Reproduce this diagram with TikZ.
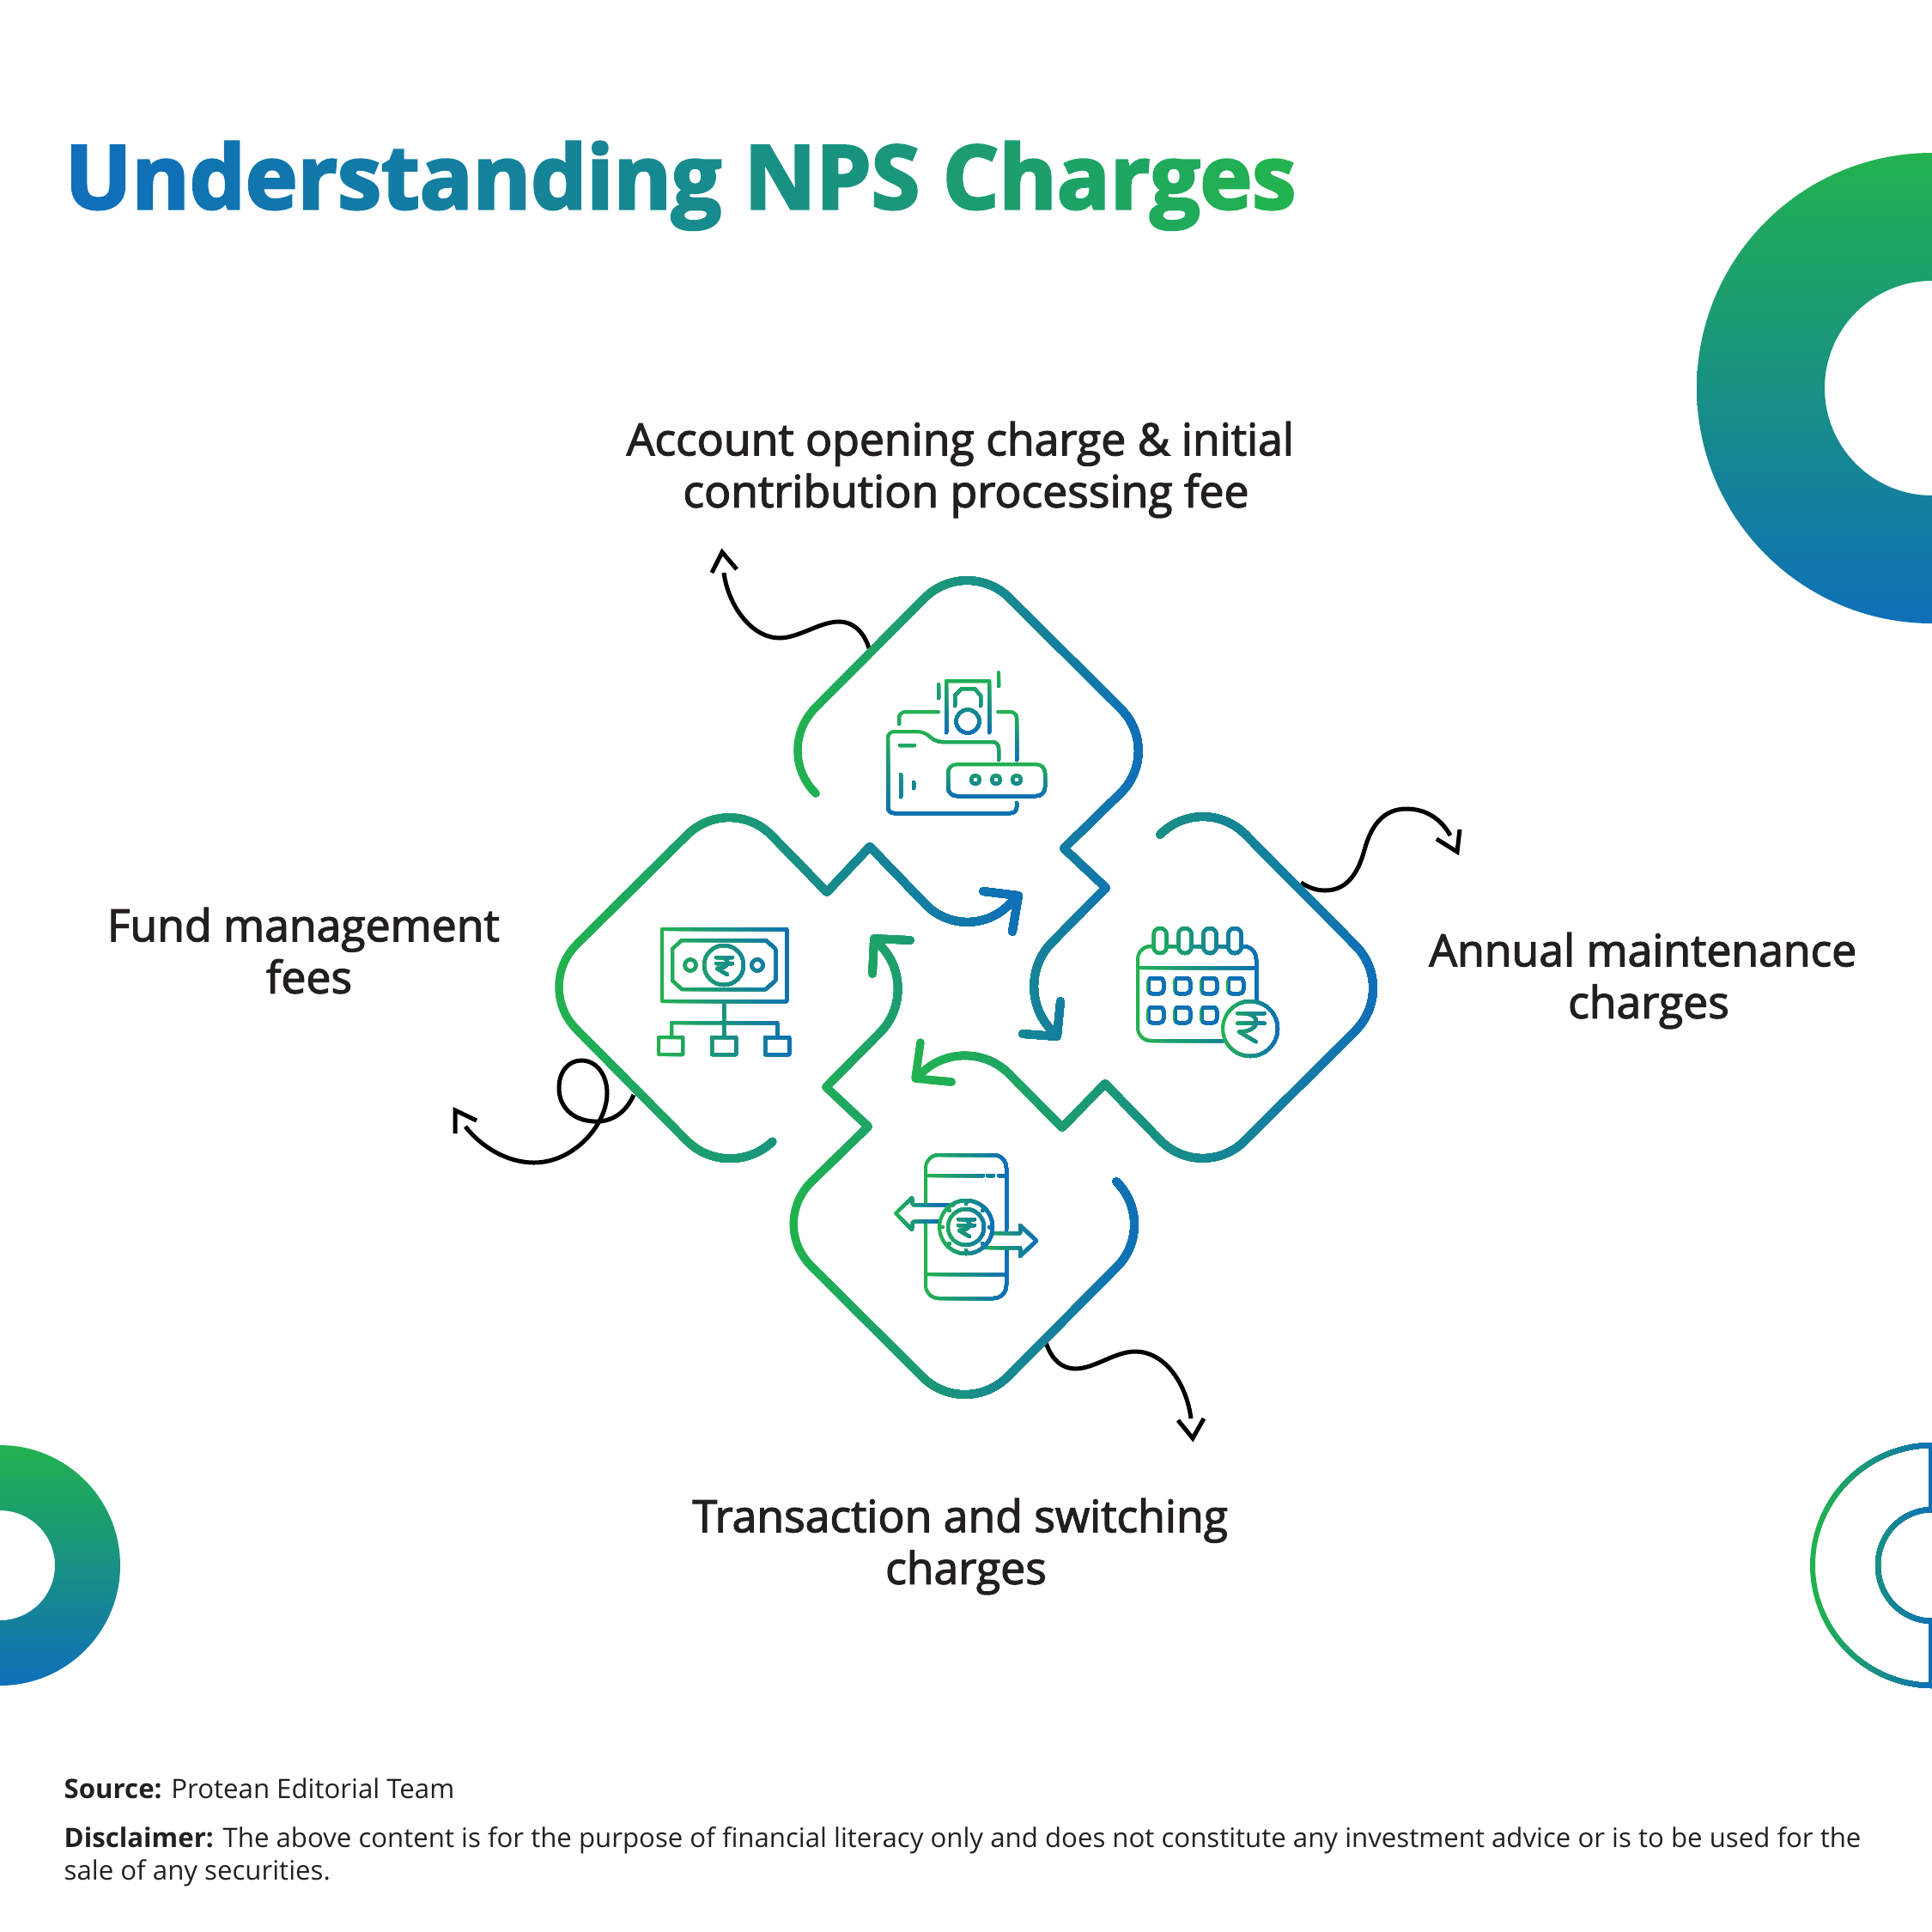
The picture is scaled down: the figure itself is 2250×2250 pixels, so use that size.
\documentclass[tikz,border=0pt]{standalone}
\usepackage{fontspec}
\usepackage{xcolor}
\setmainfont{Open Sans}
\newfontfamily\semifont[FakeBold=2.4]{Open Sans}
\newfontfamily\heavyfont[UprightFont=*-Bold,FakeBold=3]{Open Sans}
\definecolor{ggreen}{HTML}{22B24F}
\definecolor{gblue}{HTML}{0F6FB9}
\definecolor{labelgray}{HTML}{231F20}
\tikzset{
  bigline/.style={line width=0.095cm,line cap=round,line join=round},
  iconline/.style={line width=0.04cm,line cap=round,line join=round},
  ringline/.style={line width=0.06cm},
  curlyline/.style={line width=0.05cm,black},
  headline/.style={font=\semifont\fontsize{14.7}{17.2}\selectfont,text=labelgray,align=center},
  footline/.style={font=\fontsize{8.87}{10.6}\selectfont,text=labelgray,align=left,anchor=base west}
}
% stroke in bands, green to blue: style, low end, high end, path
\newcommand{\gradx}[4]{%
  \foreach \bnd in {0,...,29}{%
    \pgfmathsetmacro{\bpos}{(\bnd==0)?(#2-60):(#2+(#3-#2)*\bnd/30)}%
    \pgfmathtruncatemacro{\bpct}{100*(\bnd+0.5)/30}%
    \begin{scope}
      \clip (\bpos,-100) rectangle (3000,2400);
      \draw[#1,draw=gblue!\bpct!ggreen] #4;
    \end{scope}
  }%
}
\newcommand{\grady}[4]{%
  \foreach \bnd in {0,...,29}{%
    \pgfmathsetmacro{\bpos}{(\bnd==0)?(#2-60):(#2+(#3-#2)*\bnd/30)}%
    \pgfmathtruncatemacro{\bpct}{100*(\bnd+0.5)/30}%
    \begin{scope}
      \clip (-100,\bpos) rectangle (3000,2400);
      \draw[#1,draw=gblue!\bpct!ggreen] #4;
    \end{scope}
  }%
}
\newcommand{\rupeemark}[3]{({#1-9*#3},{#2-9*#3}) -- ({#1+10*#3},{#2-9*#3})
  ({#1-9*#3},{#2-2*#3}) -- ({#1+10*#3},{#2-2*#3})
  ({#1-5*#3},{#2-9*#3}) .. controls ({#1+8*#3},{#2-9*#3}) and ({#1+8*#3},{#2+4*#3}) .. ({#1-8*#3},{#2+4*#3})
  -- ({#1+4*#3},{#2+11*#3})}
\newcommand{\tl}[2]{\textcolor{gblue!#1!ggreen}{#2}}

\begin{document}
\begin{tikzpicture}[x=0.01cm,y=-0.01cm]
\useasboundingbox (0,0) rectangle (2250,2250);
\clip (0,0) rectangle (2250,2250);

% corner pieces
\shade[top color=ggreen,bottom color=gblue,even odd rule] (2250,452) circle[radius=274] (2250,452) circle[radius=125];
\shade[top color=ggreen,bottom color=gblue,even odd rule] (0,1823) circle[radius=140] (0,1823) circle[radius=64];
\gradx{ringline}{2115}{2250}{(2249,1683) -- (2249,1760) (2249,1886) -- (2249,1963)
  (2251,1683) .. controls (2174,1683) and (2111,1746) .. (2111,1823) .. controls (2111,1900) and (2174,1963) .. (2251,1963)
  (2251,1758) .. controls (2215,1758) and (2187,1787) .. (2187,1823) .. controls (2187,1859) and (2215,1888) .. (2251,1888)};

% title
\node[anchor=base west,inner sep=0pt] (title) at (75,243) {\heavyfont\fontsize{29.2}{36}\selectfont
  \tl{100}{U}\tl{97}{n}\tl{93}{d}\tl{89}{e}\tl{86}{r}\tl{83}{s}\tl{80}{t}\tl{76}{a}\tl{72}{n}\tl{68}{d}\tl{65}{i}\tl{62}{n}\tl{58}{g}
  \tl{50}{N}\tl{46}{P}\tl{42}{S}
  \tl{33}{C}\tl{28}{h}\tl{23}{a}\tl{18}{r}\tl{12}{g}\tl{6}{e}\tl{0}{s}};

% labels
\node[headline] (account) at (1125,547) {Account opening charge \& initial\hspace*{0.26em}\\contribution processing fee};
\node[headline] (annual) at (1920,1142) {Annual maintenance\hspace*{0.26em}\\charges};
\node[headline] (transaction) at (1125,1801) {Transaction and switching\hspace*{0.26em}\\charges};
\node[headline] (fund) at (360,1107) {Fund management\hspace*{0.26em}\\fees};

% curly pointers
\coordinate (topstart) at (1012,755);
\coordinate (topend) at (843,667);
\coordinate (rightstart) at (1515,1028);
\coordinate (rightend) at (1689,973);
\coordinate (bottomstart) at (1218,1563);
\coordinate (bottomend) at (1387,1652);
\coordinate (leftstart) at (738,1275);
\coordinate (leftend) at (542,1312);
\draw[curlyline] (topstart) .. controls (1007,738) and (995,724) .. (977,724) .. controls (955,724) and (930,743) .. (908,743) .. controls (875,743) and (848,705) .. (topend);
\draw[curlyline] (829,667) -- (841,643) -- (858,663);
\draw[curlyline] (rightstart) .. controls (1525,1034) and (1533,1037) .. (1543,1037) .. controls (1570,1037) and (1582,1015) .. (1589,990) .. controls (1597,960) and (1612,942) .. (1638,942) .. controls (1660,942) and (1678,953) .. (rightend);
\draw[curlyline] (1673,977) -- (1697,992) -- (1700,966);
\draw[curlyline] (bottomstart) .. controls (1224,1583) and (1237,1594) .. (1252,1594) .. controls (1275,1594) and (1298,1574) .. (1322,1574) .. controls (1357,1574) and (1382,1612) .. (bottomend);
\draw[curlyline] (1372,1654) -- (1389,1675) -- (1402,1652);
\draw[curlyline] (leftstart) .. controls (728,1298) and (710,1307) .. (692,1306) .. controls (668,1305) and (651,1290) .. (651,1267) .. controls (651,1248) and (662,1235) .. (677,1235) .. controls (695,1235) and (707,1252) .. (707,1273) .. controls (707,1310) and (668,1354) .. (622,1354) .. controls (590,1354) and (560,1335) .. (leftend);
\draw[curlyline] (530,1320) -- (530,1293) -- (555,1305);

% four looped arrows
\gradx{bigline}{929}{1325}{(950,924) [rounded corners=7mm] -- (900,874) -- (1126,647) -- (1355,875) -- (1239,988)
  [sharp corners] (1239,988) -- (1288,1034) [rounded corners=6.8mm] (1288,1034) -- (1177,1146) -- (1231,1207)
  [sharp corners] (1235,1166) -- (1231,1207) -- (1191,1204)};
\gradx{bigline}{1063}{1610}{(1351,972) [rounded corners=7mm] -- (1401,922) -- (1628,1151) -- (1400,1378) -- (1287,1262)
  [sharp corners] (1287,1262) -- (1237,1313) [rounded corners=6.8mm] (1237,1313) -- (1127,1202) -- (1066,1256)
  [sharp corners] (1108,1260) -- (1066,1256) -- (1072,1214)};
\gradx{bigline}{922}{1325}{(1300,1376) [rounded corners=7mm] -- (1350,1426) -- (1124,1653) -- (895,1425) -- (1011,1312)
  [sharp corners] (1011,1312) -- (962,1266) [rounded corners=6.8mm] (962,1266) -- (1073,1154) -- (1018,1093)
  [sharp corners] (1016,1134) -- (1018,1093) -- (1060,1095)};
\gradx{bigline}{650}{1190}{(899,1330) [rounded corners=7mm] -- (849,1378) -- (622,1149) -- (850,923) -- (963,1039)
  [sharp corners] (963,1039) -- (1013,986) [rounded corners=6.8mm] (1013,986) -- (1125,1102) -- (1186,1043)
  [sharp corners] (1145,1038) -- (1186,1043) -- (1179,1085)};

% folder icon
\grady{iconline}{786}{854}{(1102,853) -- (1102,793) -- (1152,793) -- (1152,853) (1093,797) -- (1093,813) (1163,783) -- (1163,799)
  (1112,822) -- (1112,810) -- (1120,802) -- (1135,802) -- (1142,810) -- (1142,822) (1127,840) circle[radius=13.5]};
\grady{iconline}{829}{885}{[rounded corners=0.7mm] (1047,843) -- (1047,829) -- (1093,829) (1162,829) -- (1184,829) -- (1184,885)};
\grady{iconline}{851}{948}{[rounded corners=0.7mm] (1163,885) -- (1163,864) -- (1090,864) -- (1076,852) -- (1034,852) -- (1034,947) -- (1184,947) -- (1184,935)
  [sharp corners] (1048,868) -- (1065,868) (1049,902) -- (1049,928) (1064,911) -- (1064,918)};
\grady{iconline}{889}{928}{[rounded corners=1mm] (1104,890) rectangle (1217,927) [sharp corners]
  (1136,908) circle[radius=5] (1160,908) circle[radius=5] (1184,908) circle[radius=5]};

% money icon
\gradx{iconline}{769}{919}{(771,1082) rectangle (916,1166)
  (783,1105) -- (794,1095) -- (892,1095) -- (903,1105) -- (903,1142) -- (892,1152) -- (794,1152) -- (783,1142) -- cycle
  (843,1124) circle[radius=23] (804,1124) circle[radius=6.5] (882,1124) circle[radius=6.5] \rupeemark{843}{1124}{1}
  (843,1166) -- (843,1207) (782,1207) -- (782,1191) -- (905,1191) -- (905,1207)
  (767,1208) rectangle (795,1228) (829,1208) rectangle (857,1228) (891,1208) rectangle (919,1228)};

% calendar icon
\gradx{iconline}{1325}{1463}{[rounded corners=1.5mm] (1342,1102) -- (1325,1102) -- (1325,1212) -- (1425,1212)
  (1447,1102) -- (1463,1102) -- (1463,1167) [sharp corners]
  (1358,1102) -- (1373,1102) (1388,1102) -- (1400,1102) (1417,1102) -- (1430,1102) (1325,1127) -- (1463,1127)
  [rounded corners=0.7mm] (1343.5,1081) rectangle (1358.5,1110) (1372.5,1081) rectangle (1387.5,1110)
  (1401.5,1081) rectangle (1416.5,1110) (1430.5,1081) rectangle (1445.5,1110)};
\foreach \bx/\by in {1346/1148,1377/1148,1408/1148,1439/1148,1346/1182,1377/1182,1408/1182}{
  \gradx{iconline}{\bx-9}{\bx+9}{[rounded corners=0.4mm] (\bx-9,\by-9) rectangle (\bx+9,\by+9)};
}
\gradx{iconline}{1424}{1489}{(1456,1198) circle[radius=32] \rupeemark{1456}{1195}{1.65}};

% phone icon
\gradx{iconline}{1078}{1172}{[rounded corners=1.5mm] (1078,1402) -- (1078,1345) -- (1172,1345) -- (1172,1432)
  (1172,1455) -- (1172,1512) -- (1078,1512) -- (1078,1423) [sharp corners]
  (1078,1369) -- (1145,1369) (1150,1369) -- (1157,1369) (1163,1369) -- (1172,1369) (1078,1484) -- (1172,1484)};
\gradx{iconline}{1043}{1093}{(1110,1403) -- (1063,1403) -- (1062,1395) -- (1043,1413) -- (1062,1432) -- (1063,1423) -- (1093,1422)};
\gradx{iconline}{1143}{1207}{(1155,1436) -- (1188,1436) -- (1188,1427) -- (1207,1445) -- (1188,1463) -- (1188,1453) -- (1143,1453)};
\gradx{iconline}{1094}{1156}{(1125,1429) circle[radius=31] (1125,1429) circle[radius=21] \rupeemark{1125}{1429}{1}
  \foreach \a in {0,45,...,315}{ ([shift={(1125,1429)}]\a:27) -- ([shift={(1125,1429)}]\a:31) }};

% footer
\node[footline,inner sep=0pt] (source) at (74,2094) {\textbf{Source:} Protean Editorial Team};
\node[footline,inner sep=0pt] (disclaimer) at (74,2189) {\textbf{Disclaimer:} The above content is for the purpose of financial literacy only and does not constitute any investment advice or is to be used for the\\sale of any securities.};
\end{tikzpicture}
\end{document}
